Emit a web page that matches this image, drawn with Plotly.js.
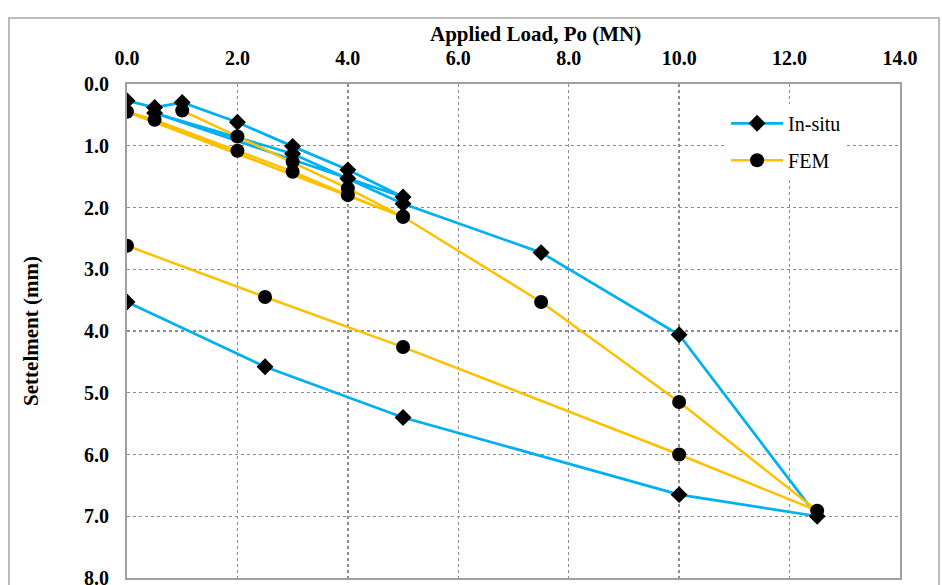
<!DOCTYPE html>
<html>
<head>
<meta charset="utf-8">
<script src="https://cdn.plot.ly/plotly-3.0.1.min.js"></script>
<style>
html,body{margin:0;padding:0;background:#fff;}
#chart{width:942px;height:585px;}
</style>
</head>
<body>
<div id="chart"></div>
<script>
// In-situ measurements (load MN, settlement mm), in plotted order
const insituLoad = [0, 0.5, 1, 2, 3, 4, 5, 0.5, 3, 4, 5, 7.5, 10, 12.5, 10, 5, 2.5, 0];
const insituSettlement = [0.27, 0.38, 0.30, 0.62, 1.01, 1.39, 1.83, 0.47, 1.13, 1.53, 1.94, 2.73, 4.06, 7.00, 6.65, 5.40, 4.58, 3.53];
// FEM results
const femLoad = [1, 2, 3, 4, 5, 0, 0.5, 2, 3, 4, 5, 7.5, 10, 12.5, 10, 5, 2.5, 0];
const femSettlement = [0.43, 0.85, 1.26, 1.69, 2.15, 0.45, 0.58, 1.08, 1.42, 1.80, 2.15, 3.53, 5.15, 6.91, 6.00, 4.26, 3.45, 2.62];

const xTicks = [0, 2, 4, 6, 8, 10, 12, 14];
const yTicks = [0, 1, 2, 3, 4, 5, 6, 7, 8];

const bold = {family: 'Liberation Serif, Times New Roman, serif', size: 20, color: '#000', weight: 'bold'};
const boldTitle = {family: 'Liberation Serif, Times New Roman, serif', size: 21, color: '#000', weight: 'bold'};

const traces = [
  {
    x: insituLoad, y: insituSettlement, name: 'In-situ', mode: 'lines+markers', type: 'scatter',
    legendgroup: 'a',
    line: {color: '#00B0F0', width: 2.75},
    marker: {symbol: 'diamond', size: 13, color: '#000'}
  },
  {
    x: femLoad, y: femSettlement, name: 'FEM', mode: 'lines+markers', type: 'scatter',
    legendgroup: 'b',
    line: {color: '#FFC000', width: 2.5},
    marker: {symbol: 'circle', size: 14, color: '#000'}
  }
];

const layout = {
  width: 942, height: 585,
  margin: {l: 127, r: 42, t: 84, b: 7},
  paper_bgcolor: '#fff', plot_bgcolor: '#fff',
  showlegend: true,
  legend: {
    x: 0.775, y: 0.96, xanchor: 'left', yanchor: 'top',
    bgcolor: '#fff', tracegroupgap: 8, itemwidth: 52,
    font: {family: 'Liberation Serif, Times New Roman, serif', size: 20, color: '#000'}
  },
  xaxis: {
    side: 'top', range: [0, 14], tickvals: xTicks, ticktext: xTicks.map(v => v.toFixed(1)),
    showgrid: true, gridcolor: '#8c8c8c', griddash: 'dot', gridwidth: 1.3,
    showline: true, linecolor: '#a0a0a0', linewidth: 2, mirror: true,
    ticks: '', zeroline: false, tickfont: bold, ticklabelstandoff: 9
  },
  yaxis: {
    range: [8, 0], tickvals: yTicks, ticktext: yTicks.map(v => v.toFixed(1)),
    showgrid: true, gridcolor: '#8c8c8c', griddash: 'dot', gridwidth: 1.3,
    showline: true, linecolor: '#a0a0a0', linewidth: 2, mirror: true,
    ticks: '', zeroline: false, tickfont: bold, ticklabelstandoff: 12,
    ticklabeloverflow: 'allow',
    title: {text: 'Settelment (mm)', font: boldTitle, standoff: 40}
  },
  annotations: [{
    text: 'Applied Load, Po (MN)', xref: 'paper', yref: 'paper',
    x: 0.528, y: 1.101, xanchor: 'center', yanchor: 'middle',
    showarrow: false, font: boldTitle
  }],
  shapes: [{
    type: 'rect', xref: 'paper', yref: 'paper',
    x0: -0.1527, x1: 1.0505, y0: -0.2, y1: 1.1336,
    line: {color: '#a6a6a6', width: 1.5}, fillcolor: 'rgba(0,0,0,0)', layer: 'below'
  }]
};

Plotly.newPlot('chart', traces, layout, {displayModeBar: false, staticPlot: true});
</script>
</body>
</html>
